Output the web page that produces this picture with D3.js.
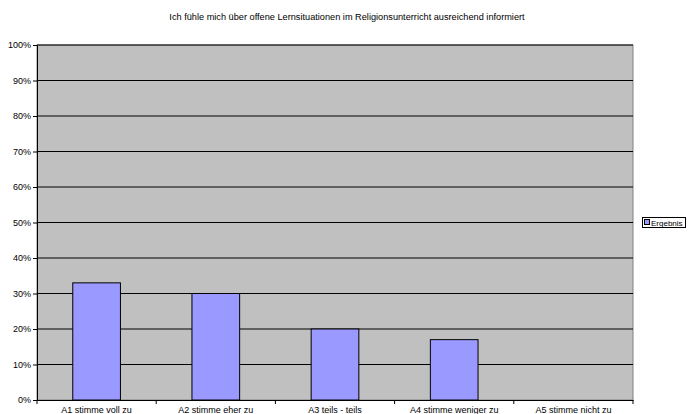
<!DOCTYPE html>
<html><head><meta charset="utf-8">
<script src="https://cdn.jsdelivr.net/npm/d3@7"></script>
<style>body{margin:0;background:#fff}svg{display:block;font-family:"Liberation Sans",Arial,sans-serif}</style>
</head><body>
<svg id="c" width="688" height="414"></svg>
<script>
const title = "Ich fühle mich über offene Lernsituationen im Religionsunterricht ausreichend informiert";
const categories = ["A1 stimme voll zu","A2 stimme eher zu","A3 teils - teils","A4 stimme weniger zu","A5 stimme nicht zu"];
const values = [0.33, 0.30, 0.20, 0.17, 0];
const yTicks = [0,0.1,0.2,0.3,0.4,0.5,0.6,0.7,0.8,0.9,1.0];
const seriesName = "Ergebnis";

const svg = d3.select("#c");
const L=37, R=633, T=45, B=400;
const x = d3.scaleBand().domain(categories).range([L,R]).paddingInner(0.6).paddingOuter(0.3);
const xb = d3.scaleBand().domain(categories).range([L,R]);
const y = d3.scaleLinear().domain([0,1]).range([B,T]);

svg.append("text").attr("x",347).attr("y",20).attr("text-anchor","middle")
  .attr("font-size","9.2px").attr("fill","#000").text(title);

svg.append("rect").attr("x",L).attr("y",T).attr("width",R-L).attr("height",B-T)
  .attr("fill","#c0c0c0").attr("stroke","#808080").attr("stroke-width",1);

svg.append("g").selectAll("line").data(yTicks.slice(1)).join("line")
  .attr("x1",L).attr("x2",R).attr("y1",d=>y(d)).attr("y2",d=>y(d))
  .attr("stroke","#000").attr("stroke-width",1);

svg.append("g").selectAll("rect").data(values).join("rect")
  .attr("x",(d,i)=>x(categories[i])).attr("width",x.bandwidth())
  .attr("y",d=>y(d)).attr("height",d=>B-y(d))
  .attr("fill","#9999ff").attr("stroke","#000").attr("stroke-width",1);

const ya = d3.axisLeft(y).tickValues(yTicks).tickFormat(d3.format(".0%")).tickSize(4).tickPadding(2);
const gy = svg.append("g").attr("transform",`translate(${L},0)`).call(ya);
gy.select(".domain").attr("stroke","#000");
gy.selectAll("text").attr("font-size","9px").attr("fill","#000").attr("font-family","Liberation Sans, Arial, sans-serif");

const xa = d3.axisBottom(xb).tickSize(0).tickPadding(7);
const gx = svg.append("g").attr("transform",`translate(0,${B})`).call(xa);
gx.select(".domain").attr("stroke","#000");
gx.selectAll("text").attr("font-size","9px").attr("fill","#000").attr("font-family","Liberation Sans, Arial, sans-serif");
// category separator ticks
gx.append("g").selectAll("line").data(categories.concat([null])).join("line")
  .attr("x1",(d,i)=> i<categories.length ? xb(d) : R).attr("x2",(d,i)=> i<categories.length ? xb(d) : R)
  .attr("y1",0).attr("y2",4).attr("stroke","#000");

const lg = svg.append("g");
lg.append("rect").attr("x",642.5).attr("y",217.5).attr("width",43).attr("height",10)
  .attr("fill","#fff").attr("stroke","#000");
lg.append("rect").attr("x",644.5).attr("y",219.5).attr("width",5).attr("height",5)
  .attr("fill","#9999ff").attr("stroke","#000");
lg.append("text").attr("x",651).attr("y",225.8).attr("font-size","8px").attr("fill","#000").text(seriesName);
</script>
</body></html>
